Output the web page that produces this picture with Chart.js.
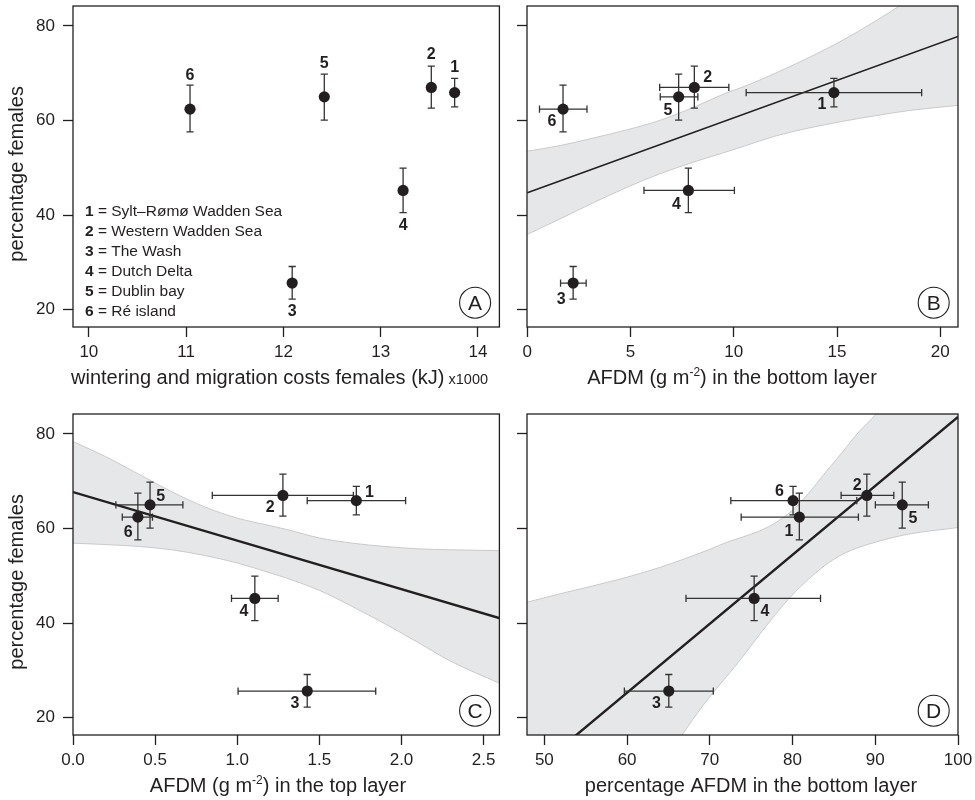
<!DOCTYPE html>
<html>
<head>
<meta charset="utf-8">
<title>Percentage females vs. costs and AFDM</title>
<script src="https://cdn.jsdelivr.net/npm/chart.js@4.4.1/dist/chart.umd.min.js"></script>
<style>
  html, body { margin: 0; padding: 0; background: #ffffff; }
  #fig { position: relative; width: 975px; height: 800px; overflow: hidden; background:#fff; }
  #fig canvas { position: absolute; }
</style>
</head>
<body>
<div id="fig">
  <canvas id="panelA" width="505" height="400" style="left:0px;top:0px"></canvas>
  <canvas id="panelB" width="470" height="400" style="left:505px;top:0px"></canvas>
  <canvas id="panelC" width="505" height="400" style="left:0px;top:400px"></canvas>
  <canvas id="panelD" width="470" height="400" style="left:505px;top:400px"></canvas>
</div>
<script>
// ================= DATA =================
const siteIds   = ['1', '2', '3', '4', '5', '6'];
const siteNames = ['Sylt\u2013R\u00f8m\u00f8 Wadden Sea', 'Western Wadden Sea', 'The Wash', 'Dutch Delta', 'Dublin bay', 'R\u00e9 island'];

// percentage females (y in all panels), with error bar limits
const pctFemales     = [65.9, 67.0, 25.6, 45.2, 65.0, 62.4];
const pctFemalesLow  = [62.9, 62.6, 22.2, 40.5, 60.1, 57.6];
const pctFemalesHigh = [68.9, 71.5, 29.1, 49.9, 69.8, 67.5];

// A: wintering and migration costs females (kJ x1000)
const costsFemales = [13.76, 13.52, 12.09, 13.23, 12.42, 11.04];

// B: AFDM (g m-2) in the bottom layer
const afdmBottom     = [14.85, 8.09, 2.22, 7.80, 7.33, 1.73];
const afdmBottomLow  = [10.60, 6.41, 1.61, 5.65, 6.44, 0.59];
const afdmBottomHigh = [19.10, 9.76, 2.85, 10.03, 8.26, 2.89];

// C: AFDM (g m-2) in the top layer
const afdmTop     = [1.725, 1.278, 1.426, 1.107, 0.469, 0.395];
const afdmTopLow  = [1.426, 0.848, 1.005, 0.965, 0.261, 0.300];
const afdmTopHigh = [2.025, 1.707, 1.843, 1.249, 0.669, 0.484];

// D: percentage AFDM in the bottom layer
const pctAfdmBottom     = [80.06, 88.98, 65.04, 75.36, 93.26, 80.82];
const pctAfdmBottomLow  = [72.54, 85.87, 59.67, 67.12, 90.01, 73.79];
const pctAfdmBottomHigh = [87.76, 92.24, 70.42, 83.38, 96.42, 87.96];

// regression lines (end points)
const fitBx = [0, 20.86];   const fitBy = [44.7, 77.8];
const fitCx = [0, 2.6];     const fitCy = [67.7, 41.0];
const fitDx = [47.9, 100];  const fitDy = [7.6, 83.6];

// confidence bands (read at several x positions)
const bandBx  = [0, 1.6, 3.2, 4.8, 6.4, 8.06, 9.67, 10.45, 12.01, 13.63, 15.24, 16.85, 18.47, 20.86];
const bandBhi = [53.5, 54.7, 56.3, 58.0, 60.0, 62.8, 65.9, 67.1, 70.0, 73.3, 76.9, 81.0, 85.5, 92.5];
const bandBlo = [35.9, 39.2, 42.6, 45.8, 48.7, 51.2, 53.4, 54.5, 56.7, 58.4, 59.8, 61.0, 62.1, 63.2];

const bandCx  = [0, 0.2, 0.4, 0.6, 0.8, 1.0, 1.2, 1.3, 1.5, 1.7, 1.9, 2.1, 2.3, 2.6];
const bandChi = [78.4, 75.2, 71.5, 67.8, 64.6, 62.2, 60.6, 59.8, 58.0, 56.9, 56.2, 55.7, 55.5, 55.3];
const bandClo = [56.9, 56.6, 56.2, 55.5, 54.3, 52.7, 50.6, 49.5, 46.9, 43.5, 39.8, 35.9, 31.9, 27.2];

const bandDx  = [47.9, 51.93, 55.97, 60, 64.03, 66.65, 68.06, 70, 72.09, 74, 75.9, 77.93, 79.95, 81.96, 84, 86, 88, 90, 94, 100];
const bandDhi = [44.4, 46.2, 47.9, 49.7, 51.8, 53.4, 54.3, 55.6, 57.1, 58.2, 59.4, 61.2, 63.8, 67.5, 71.9, 76.1, 80.4, 84.0, 92.0, 106.0];
const bandDlo = [-29.2, -19.5, -9.3, 0.6, 10.1, 16.3, 19.9, 24.4, 28.8, 32.9, 37.3, 41.8, 45.9, 49.3, 52.3, 54.5, 56.0, 57.1, 58.8, 60.2];

// tick values
const yTicks  = [20, 40, 60, 80];
const xTicksA = [10, 11, 12, 13, 14];
const xTicksB = [0, 5, 10, 15, 20];
const xTicksC = [0, 0.5, 1, 1.5, 2, 2.5];
const xTicksD = [50, 60, 70, 80, 90, 100];

// ================= STYLE =================
const INK  = '#231f20';
const BAR  = '#333333';
const BAND_FILL = '#e6e7e8';
const BAND_EDGE = '#c9cacc';
const FONT = "'Liberation Sans', Arial, Helvetica, sans-serif";
const Y_MIN = 16.3, Y_MAX = 84.23;
const CAP = 3.6;
Chart.defaults.font.family = FONT;
Chart.defaults.color = INK;

function drawSegments(ctx, segs, cx, baseline) {
  let total = 0;
  const widths = segs.map(s => { ctx.font = s.weight + ' ' + s.size + 'px ' + FONT; const w = ctx.measureText(s.text).width; total += w; return w; });
  let x = cx - total / 2;
  ctx.textAlign = 'left';
  ctx.textBaseline = 'alphabetic';
  segs.forEach((s, i) => {
    ctx.font = s.weight + ' ' + s.size + 'px ' + FONT;
    ctx.fillText(s.text, x, baseline + (s.dy || 0));
    x += widths[i];
  });
}

function buildPanel(p) {
  const canvas = document.getElementById(p.id);
  const W = canvas.width, H = canvas.height;

  const datasets = [];
  datasets.push({
    label: 'sites', type: 'line', order: 0, showLine: false,
    data: p.xs.map((x, i) => ({ x: x, y: p.ys[i] })),
    pointRadius: 5.6, pointHoverRadius: 5.6, pointBackgroundColor: INK, pointBorderWidth: 0
  });
  if (p.fitX) {
    datasets.push({
      label: 'fit', type: 'line', order: 1,
      data: p.fitX.map((x, i) => ({ x: x, y: p.fitY[i] })),
      borderColor: INK, borderWidth: p.fitWidth, pointRadius: 0, fill: false, tension: 0
    });
  }
  if (p.bandX) {
    datasets.push({
      label: 'upper', type: 'line', order: 2,
      data: p.bandX.map((x, i) => ({ x: x, y: p.bandHi[i] })),
      borderColor: BAND_EDGE, borderWidth: 1, pointRadius: 0, fill: false,
      cubicInterpolationMode: 'monotone'
    });
    datasets.push({
      label: 'lower', type: 'line', order: 3,
      data: p.bandX.map((x, i) => ({ x: x, y: p.bandLo[i] })),
      borderColor: BAND_EDGE, borderWidth: 1, pointRadius: 0,
      fill: '-1', backgroundColor: BAND_FILL,
      cubicInterpolationMode: 'monotone'
    });
  }

  const decor = {
    id: 'decor' + p.id,
    beforeDatasetDraw(chart, args) {
      if (args.index !== 0) return;
      const ctx = chart.ctx, sx = chart.scales.x, sy = chart.scales.y;
      ctx.save();
      ctx.strokeStyle = BAR; ctx.lineWidth = 1.3; ctx.lineCap = 'butt';
      for (let i = 0; i < p.xs.length; i++) {
        const px = sx.getPixelForValue(p.xs[i]);
        const py = sy.getPixelForValue(p.ys[i]);
        const y1 = sy.getPixelForValue(p.yLow[i]), y2 = sy.getPixelForValue(p.yHigh[i]);
        ctx.beginPath();
        ctx.moveTo(px, y1); ctx.lineTo(px, y2);
        ctx.moveTo(px - CAP, y1); ctx.lineTo(px + CAP, y1);
        ctx.moveTo(px - CAP, y2); ctx.lineTo(px + CAP, y2);
        if (p.xLow) {
          const x1 = sx.getPixelForValue(p.xLow[i]), x2 = sx.getPixelForValue(p.xHigh[i]);
          ctx.moveTo(x1, py); ctx.lineTo(x2, py);
          ctx.moveTo(x1, py - CAP); ctx.lineTo(x1, py + CAP);
          ctx.moveTo(x2, py - CAP); ctx.lineTo(x2, py + CAP);
        }
        ctx.stroke();
      }
      ctx.restore();
    },
    afterDraw(chart) {
      const ctx = chart.ctx, a = chart.chartArea, sx = chart.scales.x, sy = chart.scales.y;
      ctx.save();
      // frame
      ctx.strokeStyle = INK; ctx.lineWidth = 1.3;
      ctx.strokeRect(a.left, a.top, a.right - a.left, a.bottom - a.top);
      // point labels
      ctx.fillStyle = INK;
      ctx.font = 'bold 16px ' + FONT;
      ctx.textAlign = 'center'; ctx.textBaseline = 'middle';
      for (let i = 0; i < p.xs.length; i++) {
        const px = sx.getPixelForValue(p.xs[i]), py = sy.getPixelForValue(p.ys[i]);
        const off = p.labelOffsets[i];
        ctx.fillText(siteIds[i], px + off[0], py + off[1] + 1);
      }
      // panel letter in circle
      const cx = a.right - 24.3, cy = a.bottom - 24.3;
      ctx.beginPath(); ctx.arc(cx, cy, 15.5, 0, Math.PI * 2);
      ctx.lineWidth = 1.1; ctx.strokeStyle = INK; ctx.stroke();
      ctx.font = '21px ' + FONT; ctx.textAlign = 'center'; ctx.textBaseline = 'alphabetic';
      ctx.fillText(p.letter, cx, cy + 7.5);
      // x axis title
      drawSegments(ctx, p.xTitle, p.xTitleCx, p.xTitleBase);
      // y axis title
      if (p.yTitle) {
        ctx.save();
        ctx.translate(p.yTitleX, (a.top + a.bottom) / 2 + 7.4);
        ctx.rotate(-Math.PI / 2);
        ctx.font = '20px ' + FONT; ctx.textAlign = 'center'; ctx.textBaseline = 'alphabetic';
        ctx.fillText(p.yTitle, 0, 0);
        ctx.restore();
      }
      // legend
      if (p.legend) {
        for (let i = 0; i < siteIds.length; i++) {
          const base = 216 + 20 * i;
          ctx.textAlign = 'left'; ctx.textBaseline = 'alphabetic';
          ctx.font = 'bold 15.5px ' + FONT;
          ctx.fillText(siteIds[i], 85, base);
          const w = ctx.measureText(siteIds[i]).width;
          ctx.font = '15.5px ' + FONT;
          ctx.fillText(' = ' + siteNames[i], 85 + w, base);
        }
      }
      ctx.restore();
    }
  };

  return new Chart(canvas, {
    type: 'line',
    data: { datasets: datasets },
    options: {
      responsive: false, animation: false, events: [],
      layout: { padding: { left: 0, top: p.area.top, right: W - p.area.right, bottom: 0 } },
      plugins: { legend: { display: false }, tooltip: { enabled: false } },
      scales: {
        x: {
          type: 'linear', min: p.xMin, max: p.xMax,
          afterFit(s) { s.height = H - p.area.bottom; s.paddingLeft = 0; s.paddingRight = 0; s.paddingTop = 0; s.paddingBottom = 0; },
          afterBuildTicks(s) { s.ticks = p.xTicks.map(v => ({ value: v })); },
          grid: { display: true, drawOnChartArea: false, drawTicks: true, tickLength: 10, tickColor: INK, tickWidth: 1.3 },
          border: { display: false },
          ticks: { color: INK, font: { size: 17 }, padding: 5, maxRotation: 0, autoSkip: false,
                   callback: v => p.xFmt(v) }
        },
        y: {
          type: 'linear', min: Y_MIN, max: Y_MAX,
          afterFit(s) { s.width = p.area.left; s.paddingTop = 0; s.paddingBottom = 0; s.paddingLeft = 0; s.paddingRight = 0; },
          afterBuildTicks(s) { s.ticks = yTicks.map(v => ({ value: v })); },
          grid: { display: true, drawOnChartArea: false, drawTicks: true, tickLength: 10, tickColor: INK, tickWidth: 1.3 },
          border: { display: false },
          ticks: { display: p.showYLabels, color: INK, font: { size: 17 }, padding: 8, callback: v => String(v) }
        }
      }
    },
    plugins: [decor]
  });
}

const fmtInt = v => String(v);
const fmt1 = v => v.toFixed(1);

buildPanel({
  id: 'panelA', area: { left: 73, top: 6, right: 504, bottom: 327 },
  xMin: 9.837, xMax: 14.22, xTicks: xTicksA, xFmt: fmtInt, showYLabels: true,
  xs: costsFemales, ys: pctFemales, yLow: pctFemalesLow, yHigh: pctFemalesHigh,
  labelOffsets: [[0, -26], [0, -34], [0, 27.3], [0, 34.3], [0, -34], [0, -34.3]],
  letter: 'A', legend: true,
  xTitle: [{ text: 'wintering and migration costs females (kJ)', size: 20, weight: 'normal' },
           { text: ' x1000', size: 14.5, weight: 'normal' }],
  xTitleCx: 279.5, xTitleBase: 384,
  yTitle: 'percentage females', yTitleX: 22.5
});

buildPanel({
  id: 'panelB', area: { left: 22, top: 6, right: 453, bottom: 327 },
  xMin: -0.015, xMax: 20.86, xTicks: xTicksB, xFmt: fmtInt, showYLabels: false,
  xs: afdmBottom, xLow: afdmBottomLow, xHigh: afdmBottomHigh,
  ys: pctFemales, yLow: pctFemalesLow, yHigh: pctFemalesHigh,
  fitX: fitBx, fitY: fitBy, fitWidth: 1.5,
  bandX: bandBx, bandHi: bandBhi, bandLo: bandBlo,
  labelOffsets: [[-12, 11], [13.3, -10.7], [-12, 15.7], [-12, 12.7], [-10.7, 12.3], [-11, 11.3]],
  letter: 'B',
  xTitle: [{ text: 'AFDM (g m', size: 20, weight: 'normal' },
           { text: '-2', size: 12, weight: 'normal', dy: -8 },
           { text: ') in the bottom layer', size: 20, weight: 'normal' }],
  xTitleCx: 227, xTitleBase: 384
});

buildPanel({
  id: 'panelC', area: { left: 73, top: 14, right: 504, bottom: 335 },
  xMin: 0, xMax: 2.596, xTicks: xTicksC, xFmt: fmt1, showYLabels: true,
  xs: afdmTop, xLow: afdmTopLow, xHigh: afdmTopHigh,
  ys: pctFemales, yLow: pctFemalesLow, yHigh: pctFemalesHigh,
  fitX: fitCx, fitY: fitCy, fitWidth: 2.4,
  bandX: bandCx, bandHi: bandChi, bandLo: bandClo,
  labelOffsets: [[13, -8.7], [-12.7, 11.3], [-12.3, 12], [-11, 12.3], [10.7, -9.7], [-9.7, 14.3]],
  letter: 'C',
  xTitle: [{ text: 'AFDM (g m', size: 20, weight: 'normal' },
           { text: '-2', size: 12, weight: 'normal', dy: -8 },
           { text: ') in the top layer', size: 20, weight: 'normal' }],
  xTitleCx: 278, xTitleBase: 392,
  yTitle: 'percentage females', yTitleX: 22.5
});

buildPanel({
  id: 'panelD', area: { left: 22, top: 14, right: 453, bottom: 335 },
  xMin: 47.9, xMax: 100, xTicks: xTicksD, xFmt: fmtInt, showYLabels: false,
  xs: pctAfdmBottom, xLow: pctAfdmBottomLow, xHigh: pctAfdmBottomHigh,
  ys: pctFemales, yLow: pctFemalesLow, yHigh: pctFemalesHigh,
  fitX: fitDx, fitY: fitDy, fitWidth: 2.4,
  bandX: bandDx, bandHi: bandDhi, bandLo: bandDlo,
  labelOffsets: [[-4, 30], [-9.7, -11.3], [-12.3, 12], [10.7, 12.3], [10.7, 12.3], [-20, -26.4]],
  letter: 'D',
  xTitle: [{ text: 'percentage AFDM in the bottom layer', size: 20, weight: 'normal' }],
  xTitleCx: 246, xTitleBase: 392
});
</script>
</body>
</html>
